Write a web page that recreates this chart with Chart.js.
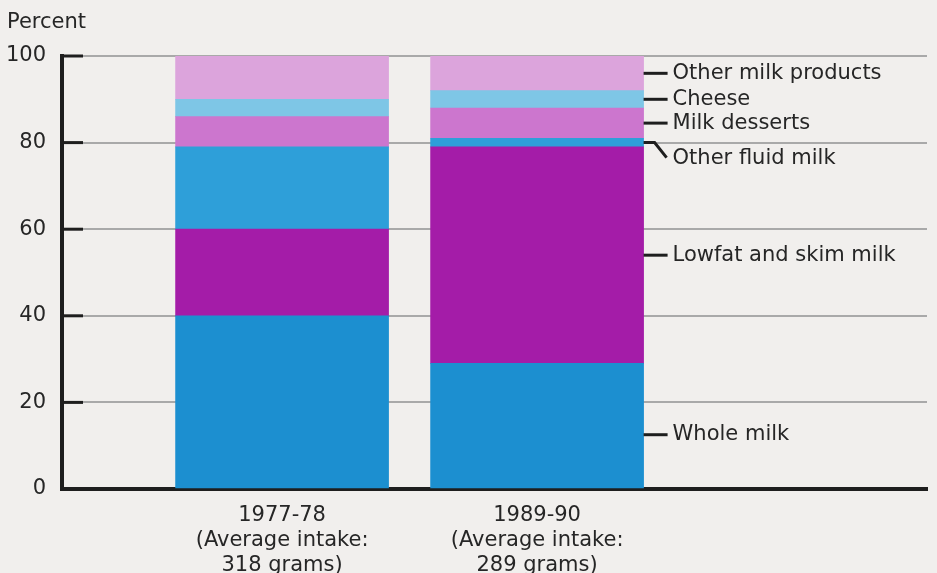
<!DOCTYPE html>
<html>
<head>
<meta charset="utf-8">
<title>Milk intake by type</title>
<script src="https://cdn.jsdelivr.net/npm/chart.js@4"></script>
<style>
  html, body { margin: 0; padding: 0; background: #f1efed; }
  #wrap { width: 937px; height: 573px; position: relative; }
</style>
</head>
<body>
<div id="wrap"><canvas id="milk-chart"></canvas></div>
<script>
// survey periods and average intake in grams
const periods = ['1977-78', '1989-90']
const intake = [318, 289]

// share of milk intake by type (percent), bottom of the stack first
const wholeMilk = [40, 29]
const lowfatMilk = [20, 50]
const otherFluidMilk = [19, 2]
const milkDesserts = [7, 7]
const cheese = [4, 4]
const otherMilkProducts = [10, 8]

const yTicks = [0, 20, 40, 60, 80, 100]

const seriesNames = ['Whole milk', 'Lowfat and skim milk', 'Other fluid milk', 'Milk desserts', 'Cheese', 'Other milk products']
const seriesValues = [wholeMilk, lowfatMilk, otherFluidMilk, milkDesserts, cheese, otherMilkProducts]
const seriesColors = ['#1c8fd0', '#a41ca8', '#2e9fd9', '#cc76ce', '#7ec6e6', '#dca4dc']

const FONT = "'DejaVu Sans', sans-serif"
const INK = '#262626'

// labels on the right sit a little off the segment middle for these
const labelShift = {'Other fluid milk': 16, 'Whole milk': 9}

const bgPlugin = {
  id: 'bg',
  beforeDraw(chart) {
    const ctx = chart.ctx
    ctx.save()
    ctx.fillStyle = '#f1efed'
    ctx.fillRect(0, 0, chart.width, chart.height)
    ctx.restore()
  }
}

// short black ticks pointing into the plot, plus the "Percent" caption
const axisExtras = {
  id: 'axisExtras',
  afterDraw(chart) {
    const ctx = chart.ctx, y = chart.scales.y, left = chart.chartArea.left
    ctx.save()
    ctx.strokeStyle = '#1e1e1e'
    ctx.lineWidth = 3
    yTicks.filter(v => v > 0).forEach(v => {
      const py = y.getPixelForValue(v)
      ctx.beginPath()
      ctx.moveTo(left, py)
      ctx.lineTo(left + 21, py)
      ctx.stroke()
    })
    ctx.fillStyle = INK
    ctx.font = '21px ' + FONT
    ctx.textBaseline = 'alphabetic'
    ctx.fillText('Percent', 7, 28)
    ctx.restore()
  }
}

// series names beside the second bar with leader lines
const sideLabels = {
  id: 'sideLabels',
  afterDatasetsDraw(chart) {
    const ctx = chart.ctx
    ctx.save()
    ctx.strokeStyle = '#1e1e1e'
    ctx.lineWidth = 3
    ctx.fillStyle = INK
    ctx.font = '21px ' + FONT
    ctx.textBaseline = 'middle'
    seriesNames.forEach((name, i) => {
      const bar = chart.getDatasetMeta(i).data[1]
      const x0 = bar.x + bar.width / 2
      const mid = (bar.y + bar.base) / 2
      const shift = labelShift[name] || 0
      const ly = mid + shift
      ctx.beginPath()
      if (name === 'Other fluid milk') {
        ctx.moveTo(x0, mid)
        ctx.lineTo(x0 + 11, mid)
        ctx.lineTo(x0 + 23, ly - 1)
      } else {
        ctx.moveTo(x0, ly)
        ctx.lineTo(x0 + 24, ly)
      }
      ctx.stroke()
      ctx.fillText(name, x0 + 29, ly)
    })
    ctx.restore()
  }
}

const datasets = seriesNames.map((name, i) => ({
  label: name,
  data: seriesValues[i].map((v, j) => ({x: j, y: v})),
  backgroundColor: seriesColors[i],
  borderWidth: 0,
  barThickness: 213
}))

new Chart(document.getElementById('milk-chart'), {
  type: 'bar',
  data: {datasets: datasets},
  plugins: [bgPlugin, axisExtras, sideLabels],
  options: {
    responsive: true,
    maintainAspectRatio: false,
    animation: false,
    layout: {padding: {top: 56, right: 10, left: 0, bottom: 0}},
    plugins: {legend: {display: false}, tooltip: {enabled: false}},
    scales: {
      x: {
        type: 'linear',
        stacked: true,
        offset: false,
        bounds: 'data',
        min: -0.863,
        max: 2.529,
        afterBuildTicks: (axis) => { axis.ticks = periods.map((p, i) => ({value: i})) },
        afterFit: (axis) => { axis.height = 84 },
        grid: {display: false, drawTicks: false, offset: false},
        border: {display: true, color: '#1e1e1e', width: 4},
        ticks: {
          autoSkip: false,
          maxRotation: 0,
          padding: 14,
          color: INK,
          font: {family: FONT, size: 21, lineHeight: '25px'},
          callback: (v) => [periods[v], '(Average intake:', intake[v] + ' grams)']
        }
      },
      y: {
        stacked: true,
        min: 0,
        max: 100,
        afterBuildTicks: (axis) => { axis.ticks = yTicks.map(v => ({value: v})) },
        afterFit: (axis) => { axis.width = 62 },
        grid: {color: '#a9a9a9', lineWidth: 2, drawTicks: false},
        border: {display: true, color: '#1e1e1e', width: 4},
        ticks: {
          padding: 16,
          color: INK,
          font: {family: FONT, size: 21}
        }
      }
    }
  }
})
</script>
</body>
</html>
